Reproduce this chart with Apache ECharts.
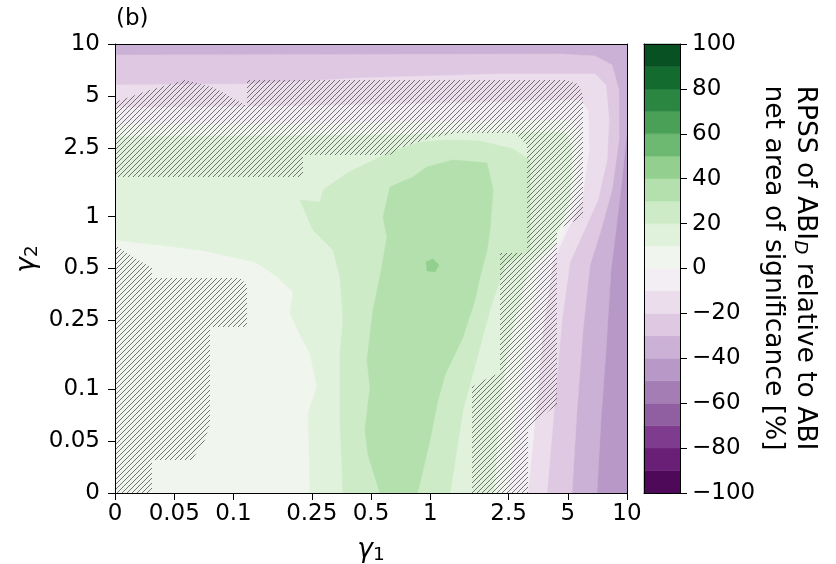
<!DOCTYPE html>
<html>
<head>
<meta charset="utf-8">
<script src="https://cdn.jsdelivr.net/npm/echarts@6/dist/echarts.min.js"></script>
<style>html,body{margin:0;padding:0;background:#fff}#c{width:836px;height:564px}</style>
</head>
<body>
<div id="c"></div>
<script>
// ---------------- data ----------------
// tick values of both gamma axes (log-like axis, 0 placed one factor-2 step below 0.05)
const xTicks = [0, 0.05, 0.1, 0.25, 0.5, 1, 2.5, 5, 10];
const yTicks = [0, 0.05, 0.1, 0.25, 0.5, 1, 2.5, 5, 10];

// colour-bar bands (lower bound of each 10 % band) and their PRGn colours
const cbarLevels = [-100, -90, -80, -70, -60, -50, -40, -30, -20, -10, 0, 10, 20, 30, 40, 50, 60, 70, 80, 90];
const cbarColors = ['#4e0a59', '#681f75', '#7f3b8d', '#905fa1', '#a37db4', '#b898c6', '#cbb1d5', '#dec8e2', '#ebddec', '#f3eef3',
                    '#f0f5ee', '#e0f2dc', '#ccebc6', '#b3e0ad', '#93d090', '#6db971', '#4aa056', '#2b8642', '#146b30', '#075122'];
const cbarTicks = [-100, -80, -60, -40, -20, 0, 20, 40, 60, 80, 100];

// filled-contour regions: area where RPSS >= level, vertices as (gamma1, gamma2)
// positions on the axes, u = log2(gamma / 0.025) (gamma = 0 sits at u = 0)
const contourLevels = [-50, -40, -30, -20, -10, 0, 10, 20, 30, 40];
const regionGeM50 = [0,0, 8.644,0, 8.644,8.644, 0,8.644];
const regionGeM40 = [0,8.644, 8.644,8.644, 8.644,6.989, 8.560,6.026, 8.459,5.064, 8.374,4.293, 8.290,2.753, 8.205,1.405, 8.138,0, 0,0];
const regionGeM30 = [0,8.433, 7.513,8.452, 8.104,8.414, 8.391,8.240, 8.509,7.759, 8.509,6.796, 8.391,5.834, 8.205,5.064, 8.020,4.390, 7.901,3.138, 7.800,1.598, 7.716,0, 0,0];
const regionGeM20 = [0,7.855, 2.279,7.874, 4.136,7.990, 6.500,8.067, 8.104,8.067, 8.290,7.855, 8.340,7.181, 8.307,6.411, 8.155,5.641, 7.851,4.871, 7.682,4.447, 7.547,3.331, 7.429,1.791, 7.294,0, 0,0];
const regionGeM10 = [0,7.412, 3.123,7.451, 6.500,7.528, 7.851,7.566, 7.986,7.374, 8.003,6.604, 7.885,5.641, 7.598,4.967, 7.395,4.447, 7.226,3.138, 7.091,1.405, 6.973,0, 0,0];
const regionGe0   = [0,7.085, 3.123,7.104, 6.500,7.162, 7.682,7.181, 7.817,6.989, 7.800,5.834, 7.513,4.871, 7.175,4.390, 6.922,2.753, 6.753,1.405, 6.635,0, 0,0];
const regionGe10  = [0,6.854, 4.812,6.893, 5.740,6.950, 7.598,6.950, 7.716,6.700, 7.682,5.641, 7.395,4.775, 7.007,4.390, 6.703,3.138, 6.500,1.791, 6.399,0,
                     3.292,0, 3.275,0.828, 3.258,1.540, 3.410,2.041, 3.292,2.695, 3.123,3.042, 2.955,3.466, 3.005,3.870, 2.701,4.197, 2.364,4.447, 1.435,4.678, 0,4.871];
const regionGe20  = [3.849,0, 3.799,1.405, 3.799,2.695, 3.849,3.331, 3.799,4.159, 3.681,4.678, 3.343,5.064, 3.123,5.641, 3.461,5.603, 3.512,5.834,
                     3.917,6.161, 4.305,6.373, 4.643,6.565, 5.149,6.758, 5.605,6.796, 6.162,6.777, 6.719,6.623, 7.007,6.411, 7.007,4.678, 6.585,4.390,
                     6.331,3.523, 6.044,2.310, 5.875,1.598, 5.656,0];
const regionGe30  = [4.474,0, 4.272,0.732, 4.221,1.213, 4.305,2.041, 4.255,2.561, 4.356,3.523, 4.474,4.159, 4.592,4.929, 4.525,5.314, 4.643,5.891,
                     5.031,6.084, 5.268,6.276, 5.707,6.411, 6.281,6.353, 6.382,5.834, 6.331,5.064, 6.281,4.678, 6.162,4.159, 6.078,3.716, 5.875,3.003,
                     5.571,2.272, 5.453,1.791, 5.318,1.020, 5.149,0.193, 5.099,0];
const regionGe40  = [5.251,4.447, 5.369,4.505, 5.470,4.390, 5.403,4.255, 5.268,4.274];

// regions where the net area of significance is not significant (hatched)
const hatchTopRight = [0,7.528, 0.591,7.759, 1.182,7.951, 1.688,7.797, 2.195,7.470, 2.229,7.470, 2.229,7.951, 7.598,7.951, 7.817,7.874, 7.901,7.663,
                       7.901,5.314, 7.513,5.102, 7.462,5.064, 7.462,1.694, 7.344,1.598, 6.973,1.251, 6.973,0, 6.027,0, 6.027,2.041, 6.331,2.233,
                       6.500,2.310, 6.500,4.621, 6.956,4.621, 6.956,6.700, 6.753,6.931, 5.774,6.931, 5.318,6.835, 4.812,6.642, 4.643,6.507,
                       3.174,6.507, 3.174,6.084, 0,6.084];
const hatchBottomLeft = [0,4.775, 0.338,4.524, 0.625,4.332, 0.625,4.139, 2.110,4.139, 2.229,4.005, 2.229,3.196, 1.604,3.196, 1.604,1.348,
                         1.520,1.020, 1.300,0.635, 0.625,0.635, 0.625,0, 0,0];

// ---------------- chart ----------------
const regionList = [regionGeM50, regionGeM40, regionGeM30, regionGeM20, regionGeM10, regionGe0, regionGe10, regionGe20, regionGe30, regionGe40];
const hatchList = [hatchTopRight, hatchBottomLeft];

function pos(g) { return g === 0 ? 0 : Math.log2(g / 0.025); }
const UMAX = pos(10);
const FONT = 'DejaVu Sans';
const FS = 23;     // tick labels
const FL = 26.5;   // axis / colour-bar labels

function colorOf(level) { return cbarColors[cbarLevels.indexOf(level)]; }
function toPoints(api, flat) {
  const pts = [];
  for (let i = 0; i < flat.length; i += 2) pts.push(api.coord([flat[i], flat[i + 1]]));
  return pts;
}
function tickLabel(list) {
  return function (v) {
    for (const t of list) if (Math.abs(pos(t) - v) < 1e-6) return String(t);
    return '';
  };
}

// hatch pattern (////)
const pat = document.createElement('canvas');
pat.width = 5; pat.height = 5;
const pc = pat.getContext('2d');
pc.strokeStyle = 'rgba(55,55,55,0.8)';
pc.lineWidth = 0.85;
pc.beginPath();
for (let k = -1; k <= 1; k++) { pc.moveTo(k * 5 - 1, 6); pc.lineTo(k * 5 + 6, -1); }
pc.stroke();
const hatchFill = { image: pat, repeat: 'repeat' };

const chart = echarts.init(document.getElementById('c'), null, { renderer: 'canvas', width: 836, height: 564 });

const axisLineStyle = { show: true, onZero: false, lineStyle: { color: '#000', width: 1 } };

const option = {
  animation: false,
  backgroundColor: '#fff',
  textStyle: { fontFamily: FONT },
  grid: [
    { left: 115, top: 44, width: 512, height: 449 },
    { left: 644, top: 44, width: 36, height: 449 }
  ],
  xAxis: [
    { gridIndex: 0, type: 'value', min: 0, max: UMAX, position: 'bottom', z: 10,
      axisLine: axisLineStyle,
      axisTick: { show: true, inside: false, length: 7, customValues: xTicks.map(pos), lineStyle: { color: '#000' } },
      axisLabel: { show: true, customValues: xTicks.map(pos), formatter: tickLabel(xTicks), fontSize: FS, color: '#000', margin: 10, fontFamily: FONT },
      splitLine: { show: false } },
    { gridIndex: 0, type: 'value', min: 0, max: UMAX, position: 'top', z: 10,
      axisLine: axisLineStyle, axisTick: { show: false }, axisLabel: { show: false }, splitLine: { show: false } },
    { gridIndex: 1, type: 'value', min: 0, max: 1, position: 'bottom', z: 10,
      axisLine: axisLineStyle, axisTick: { show: false }, axisLabel: { show: false }, splitLine: { show: false } },
    { gridIndex: 1, type: 'value', min: 0, max: 1, position: 'top', z: 10,
      axisLine: axisLineStyle, axisTick: { show: false }, axisLabel: { show: false }, splitLine: { show: false } }
  ],
  yAxis: [
    { gridIndex: 0, type: 'value', min: 0, max: UMAX, position: 'left', z: 10,
      axisLine: axisLineStyle,
      axisTick: { show: true, inside: false, length: 7, customValues: yTicks.map(pos), lineStyle: { color: '#000' } },
      axisLabel: { show: true, customValues: yTicks.map(pos), formatter: tickLabel(yTicks), fontSize: FS, color: '#000', margin: 15, fontFamily: FONT },
      splitLine: { show: false } },
    { gridIndex: 0, type: 'value', min: 0, max: UMAX, position: 'right', z: 10,
      axisLine: axisLineStyle, axisTick: { show: false }, axisLabel: { show: false }, splitLine: { show: false } },
    { gridIndex: 1, type: 'value', min: -100, max: 100, interval: 20, position: 'right', z: 10,
      axisLine: axisLineStyle,
      axisTick: { show: true, inside: false, length: 7, lineStyle: { color: '#000' } },
      axisLabel: { show: true, fontSize: FS, color: '#000', margin: 12, fontFamily: FONT,
                   formatter: v => (v < 0 ? '\u2212' + (-v) : String(v)) },
      splitLine: { show: false } },
    { gridIndex: 1, type: 'value', min: -100, max: 100, position: 'left', z: 10,
      axisLine: axisLineStyle, axisTick: { show: false }, axisLabel: { show: false }, splitLine: { show: false } }
  ],
  series: [
    { type: 'custom', name: 'contours', xAxisIndex: 0, yAxisIndex: 0, z: 2, clip: true, silent: true,
      data: contourLevels.map(lv => ({ value: [0, 0], name: String(lv) })),
      renderItem: function (params, api) {
        const lv = contourLevels[params.dataIndex];
        return { type: 'polygon', shape: { points: toPoints(api, regionList[params.dataIndex]) },
                 style: { fill: colorOf(lv), stroke: colorOf(lv), lineWidth: 0.5 } };
      } },
    { type: 'custom', name: 'hatch', xAxisIndex: 0, yAxisIndex: 0, z: 3, clip: true, silent: true,
      data: hatchList.map((h, i) => ({ value: [0, 0], name: 'hatch' + i })),
      renderItem: function (params, api) {
        return { type: 'polygon', shape: { points: toPoints(api, hatchList[params.dataIndex]) },
                 style: { fill: hatchFill } };
      } },
    { type: 'custom', name: 'colorbar', xAxisIndex: 2, yAxisIndex: 2, z: 2, silent: true,
      data: cbarLevels.map(lo => [lo, lo + 10]),
      renderItem: function (params, api) {
        const p0 = api.coord([0, api.value(0)]);
        const p1 = api.coord([1, api.value(1)]);
        return { type: 'rect', shape: { x: p0[0], y: p1[1], width: p1[0] - p0[0], height: p0[1] - p1[1] },
                 style: { fill: cbarColors[params.dataIndex], stroke: cbarColors[params.dataIndex], lineWidth: 0.5 } };
      } }
  ],
  graphic: [
    { type: 'text', x: 116, y: 8, style: { text: '(b)', fontSize: FS, fontFamily: FONT, fill: '#000' } },
    { type: 'text', x: 371, y: 550, style: { text: '{g|γ}{s|1}', align: 'center', verticalAlign: 'middle', fill: '#000',
        rich: { g: { fontSize: FL, fontStyle: 'italic', fontFamily: FONT, lineHeight: 30 },
                s: { fontSize: 18.5, fontFamily: FONT, lineHeight: 20, verticalAlign: 'bottom' } } } },
    { type: 'text', x: 27, y: 259, rotation: Math.PI / 2, style: { text: '{g|γ}{s|2}', align: 'center', verticalAlign: 'middle', fill: '#000',
        rich: { g: { fontSize: FL, fontStyle: 'italic', fontFamily: FONT, lineHeight: 30 },
                s: { fontSize: 18.5, fontFamily: FONT, lineHeight: 20, verticalAlign: 'bottom' } } } },
    { type: 'text', x: 805, y: 268, rotation: -Math.PI / 2, style: { text: '{n|RPSS of ABI}{s|D}{n| relative to ABI}', align: 'center', verticalAlign: 'middle', fill: '#000',
        rich: { n: { fontSize: FL, fontFamily: FONT, lineHeight: 30 },
                s: { fontSize: 18.5, fontStyle: 'italic', fontFamily: FONT, lineHeight: 20, verticalAlign: 'bottom' } } } },
    { type: 'text', x: 773, y: 268, rotation: -Math.PI / 2, style: { text: 'net area of significance [%]', align: 'center', verticalAlign: 'middle', fill: '#000',
        fontSize: FL, fontFamily: FONT } }
  ]
};
chart.setOption(option);
</script>
</body>
</html>
